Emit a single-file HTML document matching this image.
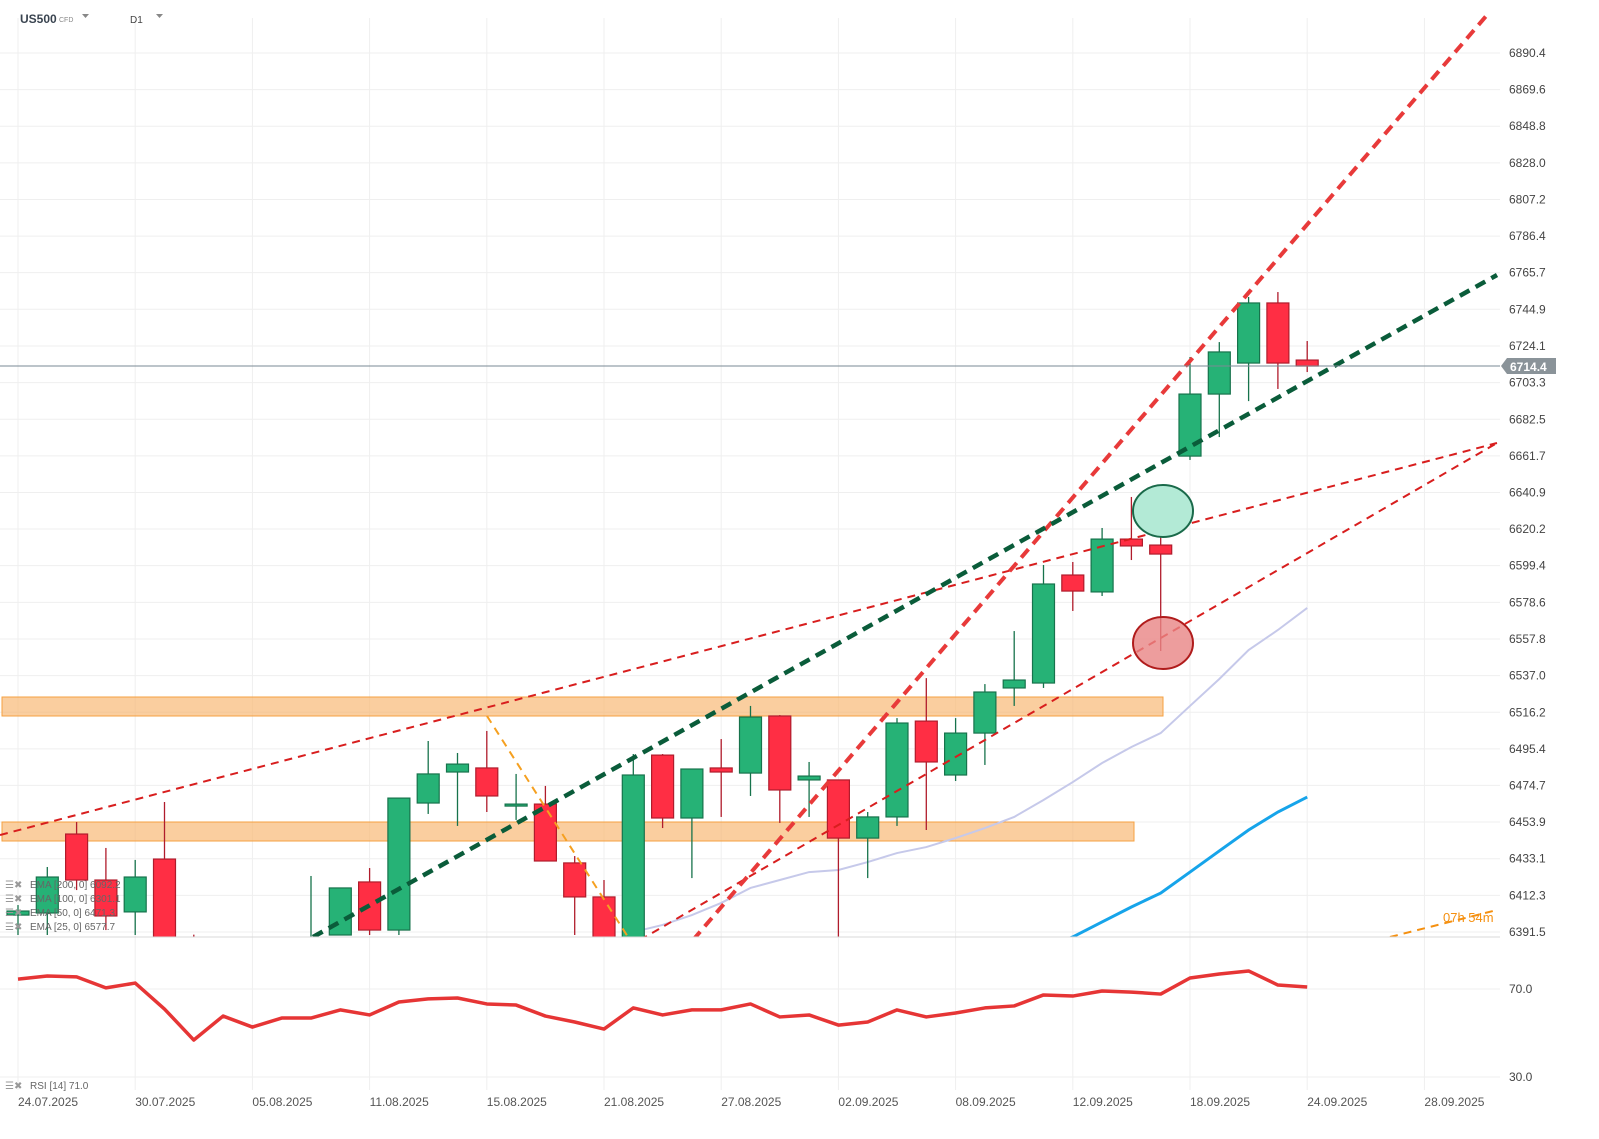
<!DOCTYPE html>
<html><head><meta charset="utf-8">
<style>
html,body{margin:0;padding:0;background:#fff;}
svg{display:block;font-family:"Liberation Sans",sans-serif;}
</style></head>
<body>
<svg id="chart" width="1599" height="1139" viewBox="0 0 1599 1139" xmlns="http://www.w3.org/2000/svg">
<defs><clipPath id="mainclip"><rect x="0" y="0" width="1500" height="937"/></clipPath>
<clipPath id="rsiclip"><rect x="0" y="940" width="1500" height="150"/></clipPath></defs>
<g id="grid"></g>
<g id="bands" clip-path="url(#mainclip)">
  <rect x="2" y="697" width="1161" height="19" fill="#f7b46b" fill-opacity="0.65" stroke="#f5a040" stroke-width="1"/>
  <rect x="2" y="822" width="1132" height="19" fill="#f7b46b" fill-opacity="0.65" stroke="#f5a040" stroke-width="1"/>
</g>
<g id="emas" clip-path="url(#mainclip)"></g>
<g id="candles" clip-path="url(#mainclip)"></g>
<g id="drawings" clip-path="url(#mainclip)">
  <line x1="0" y1="835" x2="1497" y2="443" stroke="#d81e1e" stroke-width="2" stroke-dasharray="8,6"/>
  <line x1="640" y1="940" x2="1497" y2="443" stroke="#d81e1e" stroke-width="2" stroke-dasharray="8,6"/>
  <line x1="693" y1="940" x2="1487" y2="15" stroke="#e83a3a" stroke-width="4" stroke-dasharray="11,7"/>
  <line x1="313" y1="937" x2="1497" y2="275" stroke="#0a5c3a" stroke-width="4.5" stroke-dasharray="11,7"/>
  <line x1="487" y1="716" x2="628" y2="937" stroke="#f5a020" stroke-width="2" stroke-dasharray="8,6"/>
  <line x1="1390" y1="937" x2="1497" y2="910" stroke="#f59010" stroke-width="2" stroke-dasharray="8,6"/>
  <ellipse cx="1163" cy="511" rx="30" ry="26" fill="#b3ead6" stroke="#1a6a4a" stroke-width="2"/>
  <ellipse cx="1163" cy="643" rx="30" ry="26" fill="#e88585" fill-opacity="0.8" stroke="#b01c1c" stroke-width="2"/>
</g>
<line x1="0" y1="366" x2="1500" y2="366" stroke="#7a8a94" stroke-width="1"/>
<g id="yaxis"></g>
<g>
  <path d="M1501 366 L1507 358 L1556 358 L1556 374 L1507 374 Z" fill="#8a9399"/>
  <text x="1510" y="371" font-size="12" font-weight="bold" fill="#fff">6714.4</text>
</g>
<text x="1443" y="922" font-size="13" fill="#f59010">07h 54m</text>
<line x1="0" y1="937" x2="1500" y2="937" stroke="#d8d8d8" stroke-width="1"/>
<g id="rsi"></g>
<g id="xaxis"></g>
<g>
  <text x="20" y="23" font-size="12" font-weight="bold" fill="#3a4450">US500</text>
  <text x="59" y="22" font-size="7" fill="#888">CFD</text>
  <path d="M82 14 L89 14 L85.5 18 Z" fill="#888"/>
  <text x="130" y="23" font-size="10" fill="#444">D1</text>
  <path d="M156 14 L163 14 L159.5 18 Z" fill="#888"/>
</g>
<g id="legend"></g>
</svg>
<script>
// ---- data ----
const dates = ["24.07","25.07","28.07","29.07","30.07","31.07","01.08","04.08","05.08","06.08","07.08","08.08","11.08","12.08","13.08","14.08","15.08","18.08","19.08","20.08","21.08","22.08","25.08","26.08","27.08","28.08","29.08","01.09","02.09","03.09","04.09","05.09","08.09","09.09","10.09","11.09","12.09","15.09","16.09","17.09","18.09","19.09","22.09","23.09","24.09"];
const opens  = [6401.1,6402.3,6447.1,6421.0,6402.9,6432.9,6387,6368,6375,6360,6378,6389.8,6419.9,6392.6,6464.7,6482.3,6484.6,6464.1,6464.1,6430.7,6411.4,6387.0,6491.9,6456.2,6484.6,6481.7,6514.1,6477.8,6477.8,6444.8,6456.8,6511.2,6480.6,6504.4,6530.0,6532.8,6594.1,6584.5,6614.5,6611.1,6661.6,6696.8,6714.4,6748.5,6716.1];
const highs  = [6406.8,6428.4,6453.9,6439.2,6432.4,6465.3,6390,6380,6385,6380,6423.3,6416.5,6427.8,6467.5,6499.9,6493.1,6505.6,6481.2,6474.4,6434.6,6421.0,6492.5,6492.5,6484.0,6501.0,6519.8,6514.6,6488.0,6477.8,6459.6,6512.9,6535.6,6512.9,6532.2,6562.3,6599.8,6601.5,6620.8,6638.4,6625.9,6717.8,6726.3,6751.9,6754.7,6726.9];
const lows   = [6389.8,6389.8,6415.3,6392.6,6389.8,6381.3,6360,6355,6350,6345,6370,6389.8,6389.8,6389.8,6458.5,6451.7,6459.6,6455.1,6431.8,6389.8,6380,6389.8,6450.5,6422.1,6456.8,6468.7,6453.4,6456.8,6380,6422.1,6451.7,6449.4,6477.2,6486.3,6519.8,6530.0,6573.7,6582.2,6602.6,6551.0,6659.4,6672.4,6692.8,6699.7,6709.3];
const closes = [6403.4,6422.7,6421.0,6400.6,6422.7,6387.0,6368,6375,6360,6378,6388,6416.5,6392.6,6467.5,6481.2,6486.8,6468.7,6464.1,6431.8,6411.4,6387.0,6480.6,6456.2,6484.0,6482.3,6513.5,6472.1,6480.0,6444.8,6456.8,6510.1,6488.0,6504.4,6527.7,6534.5,6589.0,6585.0,6614.5,6610.6,6606.0,6696.8,6720.7,6748.5,6714.4,6712.7];
const ema25 = [null,null,null,null,null,null,null,null,null,null,null,null,null,null,null,null,null,null,6370,6375,6380,6391.5,6395.5,6401.1,6408.0,6416.5,6421.0,6425.5,6426.7,6431.2,6436.3,6439.7,6444.8,6450.5,6456.8,6466.4,6476.6,6487.4,6496.5,6504.4,6519.8,6535.1,6551.5,6562.9,6575.4];
const ema50 = [null,null,null,null,null,null,null,null,null,null,null,null,null,null,null,null,null,null,null,null,null,null,null,null,null,null,null,null,null,null,null,null,null,null,null,6382,6388.7,6397.2,6405.7,6413.6,6425.5,6437.5,6449.4,6459.6,6468.1];
const rsi = [74.5,75.9,75.5,70.5,72.7,60.9,46.8,57.7,52.7,56.8,56.8,60.5,58.2,64.1,65.5,65.9,63.2,62.7,57.7,55.0,51.8,61.4,58.2,60.5,60.5,63.2,57.3,58.2,53.6,55.0,60.5,57.3,59.1,61.4,62.3,67.3,66.8,69.1,68.6,67.7,75.0,76.8,78.2,71.8,70.9];
const priceTicks = [6890.4,6869.6,6848.8,6828.0,6807.2,6786.4,6765.7,6744.9,6724.1,6703.3,6682.5,6661.7,6640.9,6620.2,6599.4,6578.6,6557.8,6537.0,6516.2,6495.4,6474.7,6453.9,6433.1,6412.3,6391.5];
const dateTicks = ["24.07.2025","30.07.2025","05.08.2025","11.08.2025","15.08.2025","21.08.2025","27.08.2025","02.09.2025","08.09.2025","12.09.2025","18.09.2025","24.09.2025","28.09.2025"];
const rsiTicks = [70.0,30.0];
const legendLabels = ["EMA  [200,  0]  6092.2","EMA  [100,  0]  6301.1","EMA  [50,  0]  6471.3","EMA  [25,  0]  6577.7"];

// ---- scales ----
const NS='http://www.w3.org/2000/svg';
const x = i => 18 + 29.3*i;
const y = v => 932 - (v-6391.5)*1.762;
const ry = v => 989 - (v-70)*2.2;
function mk(tag, attrs, parent){const e=document.createElementNS(NS,tag);for(const k in attrs)e.setAttribute(k,attrs[k]);parent.appendChild(e);return e;}
const g=id=>document.getElementById(id);

// grid
priceTicks.forEach(v=>{
  const l=mk('line',{x1:0,x2:1500,y1:y(v),y2:y(v),stroke:'#efefef','stroke-width':1},g('grid'));
  
  
  const t=mk('text',{x:1509,y:y(v)+4,'font-size':12,fill:'#444'},g('yaxis'));
  t.textContent=v.toFixed(1);
  
  
});
dateTicks.forEach((d,k)=>{
  const xx=x(k*4);
  const l=mk('line',{x1:xx,x2:xx,y1:18,y2:1090,stroke:'#efefef','stroke-width':1},g('grid'));
  
  
  const t=mk('text',{x:xx,y:1106,'font-size':12,fill:'#555'},g('xaxis'));
  t.textContent=d;
  
  
});
rsiTicks.forEach(v=>{
  const l=mk('line',{x1:0,x2:1500,y1:ry(v),y2:ry(v),stroke:'#efefef','stroke-width':1},g('grid'));
  
  
  const t=mk('text',{x:1509,y:ry(v)+4,'font-size':12,fill:'#444'},g('yaxis'));
  t.textContent=v.toFixed(1);
  
  
});

// EMA lines
function linePts(arr, fy){return arr.map((v,i)=>v==null?null:x(i)+','+fy(v)).filter(p=>p).join(' ');}
const e25=mk('polyline',{points:linePts(ema25,y),fill:'none',stroke:'#c6c9ea','stroke-width':2},g('emas'));


const e50=mk('polyline',{points:linePts(ema50,y),fill:'none',stroke:'#16a4ea','stroke-width':3},g('emas'));



// candles
dates.forEach((d,i)=>{
  const up=closes[i]>=opens[i];
  const fill=up?'#26b276':'#ff2e44', stroke=up?'#17734c':'#b01c2c';
  const grp=mk('g',{},g('candles'));
  
  
  mk('line',{x1:x(i),x2:x(i),y1:y(highs[i]),y2:y(lows[i]),stroke:stroke,'stroke-width':1.3},grp);
  const top=y(Math.max(opens[i],closes[i])), bot=y(Math.min(opens[i],closes[i]));
  mk('rect',{x:x(i)-11,y:top,width:22,height:Math.max(bot-top,2),fill:fill,stroke:stroke,'stroke-width':1.2},grp);
});

// RSI
const rl=mk('polyline',{points:linePts(rsi,ry),fill:'none',stroke:'#e63535','stroke-width':3.5,'stroke-linejoin':'round'},g('rsi'));


const rt=mk('text',{x:30,y:1089,'font-size':10,fill:'#666'},g('rsi'));
rt.textContent='RSI  [14]  71.0';


mk('text',{x:5,y:1089,'font-size':10,fill:'#999'},g('rsi')).textContent='☰✖';

// legend
legendLabels.forEach((s,k)=>{
  const yy=888+k*14;
  const ic=mk('text',{x:5,y:yy,'font-size':10,fill:'#999'},g('legend'));
  ic.textContent='☰✖';
  const t=mk('text',{x:30,y:yy,'font-size':10,fill:'#666'},g('legend'));
  t.textContent=s;
  
  
});
</script>
</body></html>
